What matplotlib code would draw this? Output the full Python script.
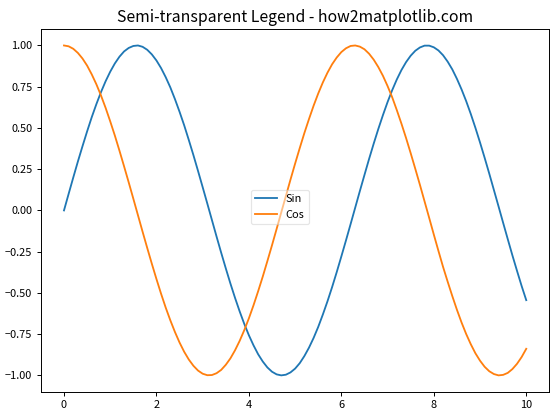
import matplotlib
matplotlib.use("Agg")
import matplotlib.pyplot as plt

plt.rcParams['font.family'] = ['Noto Sans CJK SC', 'DejaVu Sans']

# x from 0 to 10, step 0.1
x = [i / 10 for i in range(101)]
sin_vals = [0.000, 0.100, 0.199, 0.296, 0.389, 0.479, 0.565, 0.644, 0.717, 0.783,
            0.841, 0.891, 0.932, 0.964, 0.985, 0.997, 1.000, 0.992, 0.974, 0.946,
            0.909, 0.863, 0.808, 0.746, 0.675, 0.598, 0.516, 0.427, 0.335, 0.239,
            0.141, 0.042, -0.058, -0.158, -0.256, -0.351, -0.443, -0.530, -0.612, -0.688,
            -0.757, -0.818, -0.872, -0.916, -0.952, -0.978, -0.994, -1.000, -0.996, -0.982,
            -0.959, -0.926, -0.883, -0.832, -0.773, -0.706, -0.631, -0.551, -0.465, -0.374,
            -0.279, -0.182, -0.083, 0.017, 0.117, 0.215, 0.312, 0.405, 0.494, 0.578,
            0.657, 0.729, 0.794, 0.851, 0.899, 0.938, 0.968, 0.988, 0.999, 0.999,
            0.989, 0.970, 0.941, 0.902, 0.855, 0.798, 0.734, 0.663, 0.585, 0.501,
            0.412, 0.319, 0.223, 0.124, 0.025, -0.075, -0.174, -0.272, -0.366, -0.458,
            -0.544]
cos_vals = [1.000, 0.995, 0.980, 0.955, 0.921, 0.878, 0.825, 0.765, 0.697, 0.622,
            0.540, 0.454, 0.362, 0.267, 0.170, 0.071, -0.029, -0.129, -0.227, -0.323,
            -0.416, -0.505, -0.589, -0.666, -0.737, -0.801, -0.857, -0.904, -0.942, -0.971,
            -0.990, -0.999, -0.998, -0.987, -0.967, -0.936, -0.897, -0.848, -0.791, -0.726,
            -0.654, -0.575, -0.490, -0.401, -0.307, -0.211, -0.112, -0.012, 0.087, 0.187,
            0.284, 0.378, 0.469, 0.554, 0.635, 0.709, 0.776, 0.835, 0.886, 0.927,
            0.960, 0.983, 0.997, 1.000, 0.993, 0.977, 0.950, 0.914, 0.869, 0.816,
            0.754, 0.686, 0.608, 0.526, 0.439, 0.347, 0.252, 0.155, 0.055, -0.045,
            -0.146, -0.245, -0.342, -0.432, -0.519, -0.602, -0.679, -0.749, -0.811, -0.866,
            -0.911, -0.948, -0.975, -0.992, -1.000, -0.997, -0.985, -0.962, -0.930, -0.889,
            -0.839]

fig = plt.figure(figsize=(6.4, 4.8), dpi=87.5)
ax = fig.add_axes([0.073, 0.067, 0.908, 0.864])
ax.plot(x, sin_vals, label='Sin')
ax.plot(x, cos_vals, label='Cos')
ax.legend(loc='center', bbox_to_anchor=(0.47, 0.51), framealpha=0.5, fontsize=9)
ax.set_title('Semi-transparent Legend - how2matplotlib.com', fontsize=13)
ax.tick_params(labelsize=9)
plt.savefig('out.png')
